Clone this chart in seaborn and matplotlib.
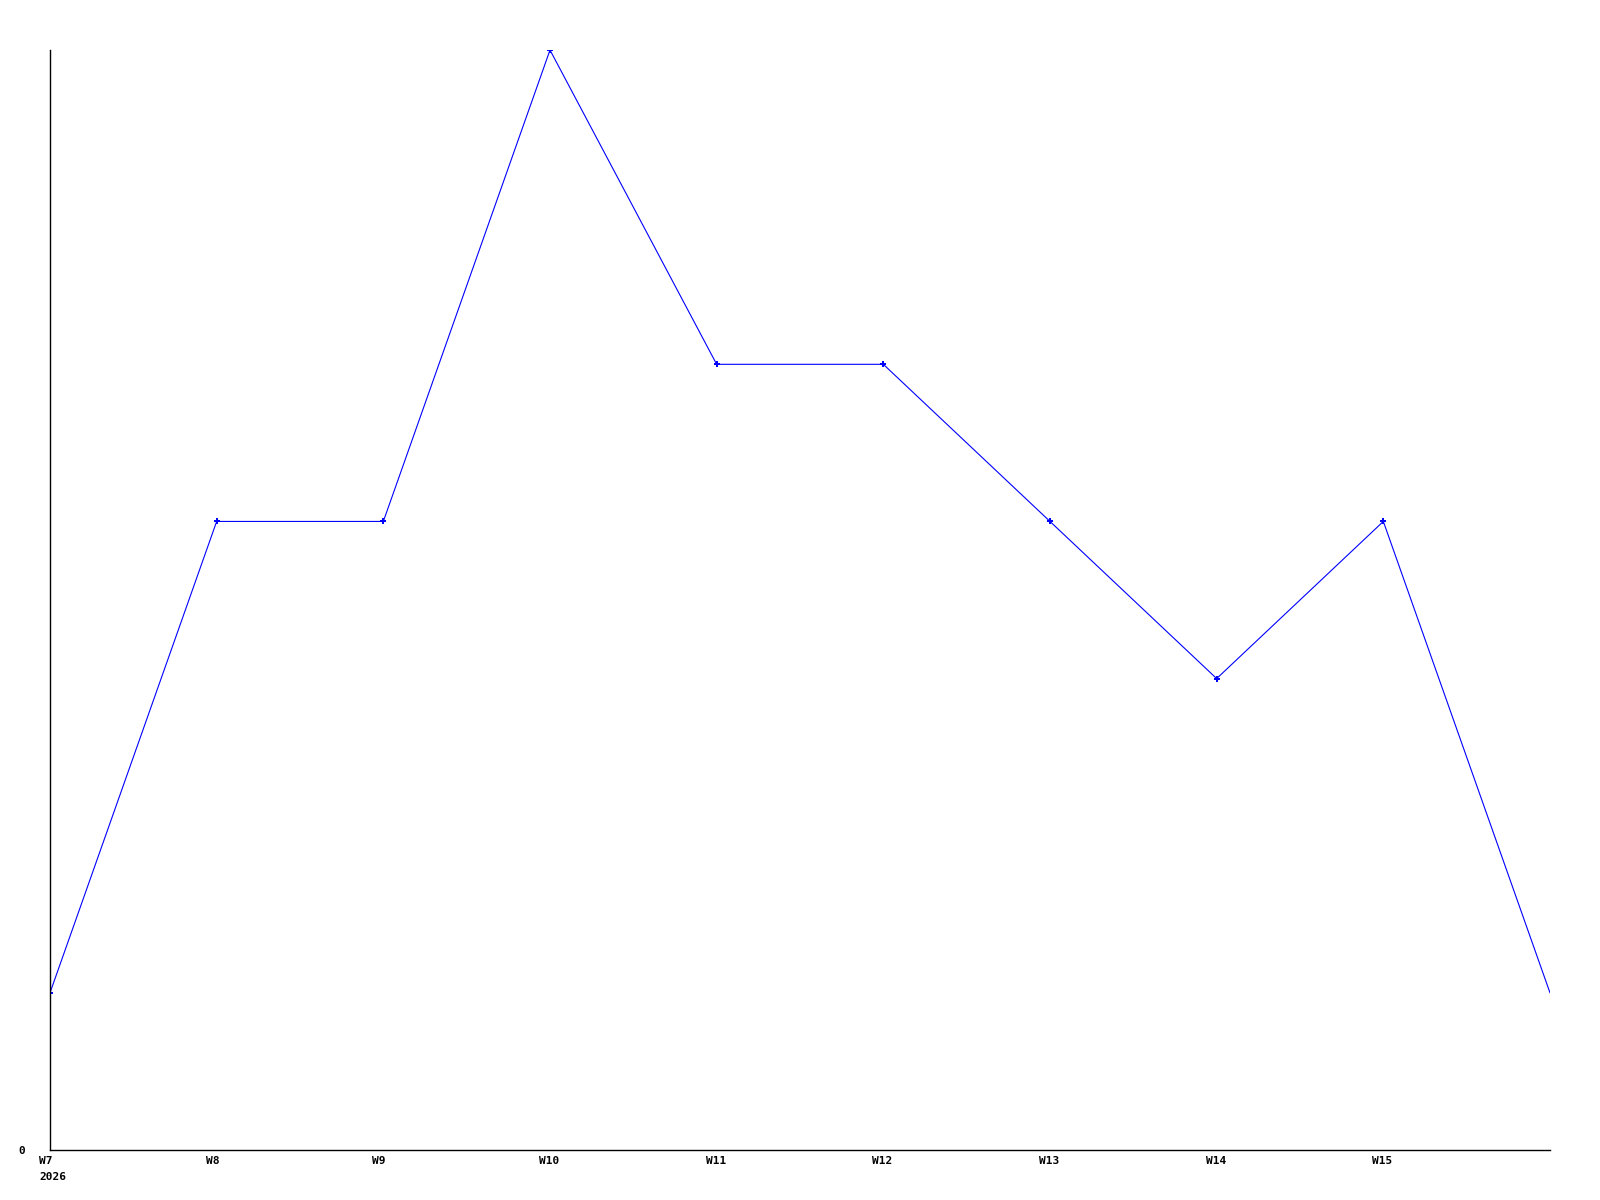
import matplotlib
matplotlib.use("Agg")
import matplotlib.pyplot as plt
import matplotlib.transforms as mtransforms
import seaborn as sns
import pandas as pd

weeks = ["W7", "W8", "W9", "W10", "W11", "W12", "W13", "W14", "W15", "W16"]
values = [1, 4, 4, 7, 5, 5, 4, 3, 4, 1]
tick_labels = ["W7\n2026", "W8", "W9", "W10", "W11", "W12", "W13", "W14", "W15"]

sns.set_style("white")
plt.rcParams['font.family'] = ['DejaVu Sans Mono', 'DejaVu Sans']
plt.rcParams['text.color'] = 'black'
plt.rcParams['xtick.color'] = 'black'
plt.rcParams['ytick.color'] = 'black'

df = pd.DataFrame({"x": range(len(weeks)), "week": weeks, "value": values})

fig = plt.figure(figsize=(16, 12), dpi=100)
ax = fig.add_axes([0.03125, 0.0417, 0.9375, 0.9166])
sns.lineplot(data=df, x="x", y="value", ax=ax, color="#0000ff", linewidth=0.8,
             marker="P", markersize=4, markeredgewidth=0, markevery=list(range(9)))

ax.set_xlim(0, len(weeks) - 1)
ax.set_ylim(0, max(values))
ax.set_xticks(range(len(tick_labels)))
ax.set_xticklabels(tick_labels, fontsize=8, fontweight="bold", va="top",
                   linespacing=1.8, color="black")
ax.set_yticks([0])
ax.set_yticklabels(["0"], fontsize=8, fontweight="bold", color="black")
ax.tick_params(axis="y", length=0, pad=18)
ax.tick_params(axis="x", length=0, pad=4)
ax.set_xlabel("")
ax.set_ylabel("")
for s in ["top", "right"]:
    ax.spines[s].set_visible(False)
for s in ["left", "bottom"]:
    ax.spines[s].set_color("black")
    ax.spines[s].set_linewidth(1)

for lbl in ax.get_xticklabels():
    lbl.set_horizontalalignment("left")
    lbl.set_transform(lbl.get_transform() + mtransforms.ScaledTranslation(-11 / 100, 0, fig.dpi_scale_trans))

fig.savefig("out.png", dpi=100, facecolor="white")
